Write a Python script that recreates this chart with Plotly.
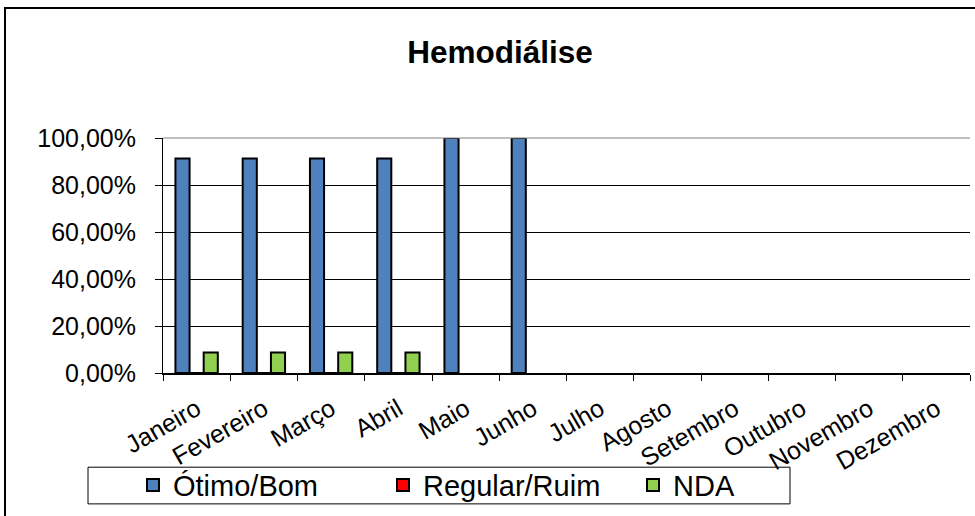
import plotly.graph_objects as go

months = ["Janeiro", "Fevereiro", "Março", "Abril", "Maio", "Junho",
          "Julho", "Agosto", "Setembro", "Outubro", "Novembro", "Dezembro"]
otimo_bom = [91.3, 91.3, 91.3, 91.3, 100.0, 100.0, None, None, None, None, None, None]
regular_ruim = [0.0, 0.0, 0.0, 0.0, None, None, None, None, None, None, None, None]
nda = [8.7, 8.7, 8.7, 8.7, None, None, None, None, None, None, None, None]
y_ticks = [0, 20, 40, 60, 80, 100]
y_tick_text = ["0,00%", "20,00%", "40,00%", "60,00%", "80,00%", "100,00%"]

W, H = 975, 516
ml, mr, mt, mb = 163, 5, 138, 141
pw = W - ml - mr
ph = H - mt - mb


def px_x(x):
    return (x - ml) / pw


def px_y(y):
    return (H - mb - y) / ph


fig = go.Figure()
for name, vals, col in [("Ótimo/Bom", otimo_bom, "#4F81BD"),
                        ("Regular/Ruim", regular_ruim, "#FF0000"),
                        ("NDA", nda, "#92D050")]:
    fig.add_trace(go.Bar(x=months, y=vals, name=name,
                         marker=dict(color=col, line=dict(color="black", width=2))))

fig.update_layout(
    width=W, height=H,
    margin=dict(l=ml, r=mr, t=mt, b=mb),
    paper_bgcolor="white", plot_bgcolor="white",
    barmode="group", bargap=0.37, bargroupgap=0,
    font=dict(family="Liberation Sans, Arial, sans-serif", color="black"),
    title=dict(text="<b>Hemodiálise</b>", x=500 / W, xref="container", xanchor="center",
               y=1 - 52 / H, yref="container", yanchor="middle",
               font=dict(size=31.5, color="black")),
    showlegend=True,
    legend=dict(orientation="h", x=px_x(133), xanchor="left",
                y=px_y(488), yanchor="middle",
                borderwidth=0, bgcolor="rgba(0,0,0,0)",
                font=dict(size=29), entrywidth=205, itemwidth=30,
                traceorder="normal"),
    xaxis=dict(type="category", tickangle=-30, tickfont=dict(size=25),
               ticks="outside", tickson="boundaries", ticklen=6, tickcolor="black",
               ticklabelstandoff=10,
               showline=True, linecolor="black", linewidth=1.5, showgrid=False,
               range=[-0.5, 11.5]),
    yaxis=dict(range=[0, 100], tickvals=y_ticks, ticktext=y_tick_text,
               tickfont=dict(size=25), ticks="outside", ticklen=7, tickcolor="black",
               ticklabelstandoff=14,
               showline=True, linecolor="black", linewidth=1,
               showgrid=True, gridcolor="black", gridwidth=1, zeroline=False),
)

# top border of plot area (gray)
fig.add_shape(type="line", xref="paper", yref="paper", x0=0, x1=1, y0=1, y1=1,
              line=dict(color="#808080", width=1))
# legend box
fig.add_shape(type="rect", xref="paper", yref="paper",
              x0=px_x(88), x1=px_x(790), y0=px_y(507), y1=px_y(470),
              line=dict(color="black", width=1), layer="below")
# outer chart frame
fig.add_shape(type="rect", xref="paper", yref="paper",
              x0=px_x(5), x1=px_x(W + 10), y0=px_y(H + 10), y1=px_y(7),
              line=dict(color="black", width=2), layer="below")

fig.write_html("out.html", config={"displayModeBar": False},
               post_script="document.body.style.margin='0';")
